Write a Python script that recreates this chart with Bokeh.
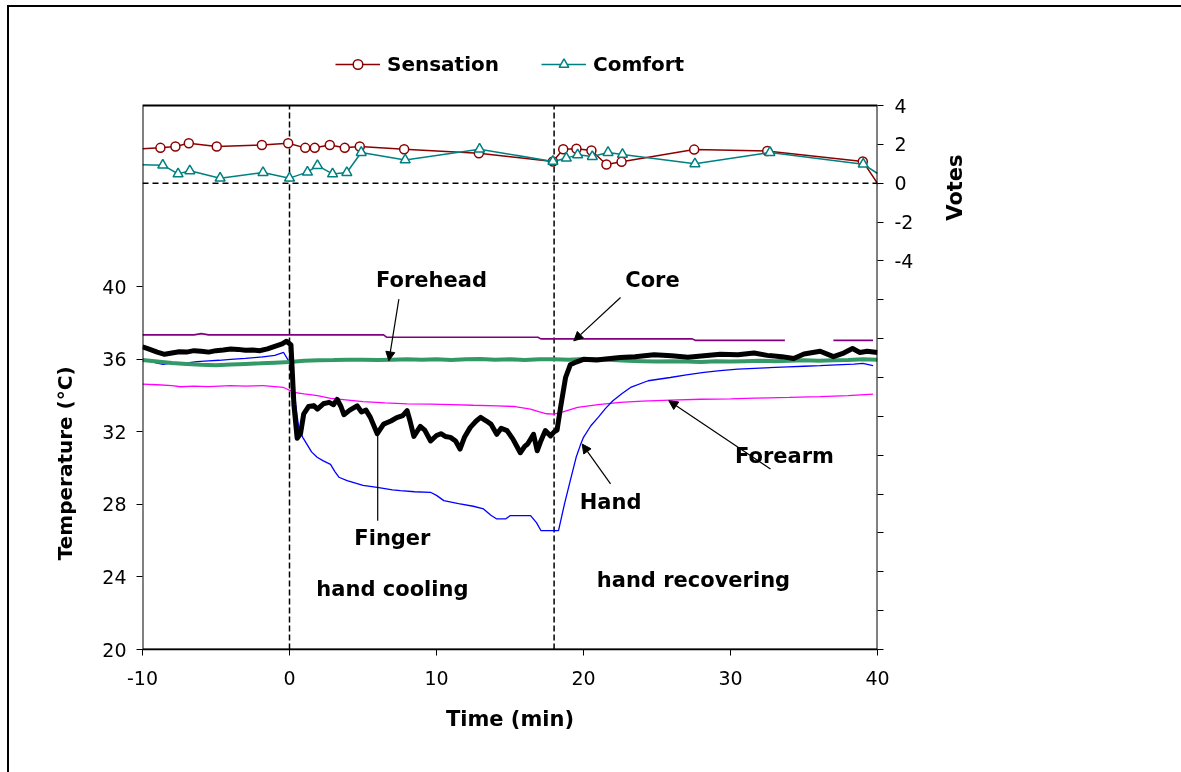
import math
from bokeh.plotting import figure
from bokeh.models import (Range1d, LinearAxis, FixedTicker, Span, Label, Arrow, BoxAnnotation,
                          NormalHead, Legend, LegendItem, CustomJSTickFormatter)
from bokeh.embed import file_html
from bokeh.resources import INLINE

# ---------------- data ----------------
sens_t = [-10.0, -8.78, -7.76, -6.85, -4.95, -1.88, -0.09, 1.07, 1.72, 2.74, 3.76, 4.78,
          7.80, 12.88, 17.92, 18.62, 19.52, 20.54, 21.56, 22.59, 27.53, 32.5, 39.0, 40.1]
sens_v = [1.77, 1.82, 1.89, 2.06, 1.89, 1.97, 2.06, 1.82, 1.82, 1.97, 1.82, 1.89,
          1.75, 1.54, 1.12, 1.75, 1.77, 1.68, 0.96, 1.10, 1.73, 1.66, 1.12, -0.12]

comf_t = [-10.0, -8.62, -7.58, -6.78, -4.72, -1.80, 0.0, 1.22, 1.90, 2.93, 3.90, 4.88,
          7.87, 12.93, 17.92, 18.83, 19.6, 20.6, 21.67, 22.65, 27.58, 32.68, 39.03, 40.0]
comf_v = [0.95, 0.93, 0.48, 0.64, 0.26, 0.55, 0.26, 0.57, 0.91, 0.48, 0.55, 1.58,
          1.20, 1.75, 1.12, 1.29, 1.46, 1.37, 1.58, 1.48, 1.00, 1.58, 0.98, 0.50]

core_t = [-10.0, -6.5, -6.0, -5.5, 6.4, 6.6, 16.9, 17.1, 27.4, 27.6, 33.7, 35.0, 37.0, 39.7]
core_T = [37.35, 37.35, 37.42, 37.35, 37.35, 37.22, 37.22, 37.13, 37.13, 37.05, 37.05,
          float("nan"), 37.05, 37.05]

forehead_t = list(range(-10, 41))
forehead_T = [35.96, 35.88, 35.80, 35.75, 35.70, 35.68, 35.72, 35.75, 35.78, 35.82, 35.85,
              35.92, 35.95, 35.96, 35.98, 35.98, 35.96, 35.98, 36.00, 35.98, 36.00,
              35.97, 36.00, 36.02, 35.98, 36.00, 35.97, 36.00, 36.00, 35.98, 36.02,
              36.00, 35.97, 35.92, 35.90, 35.88, 35.90, 35.88, 35.85, 35.90, 35.88,
              35.90, 35.92, 35.90, 35.92, 35.95, 35.93, 35.95, 35.97, 36.00, 35.98]

forearm_t = [-10, -9, -8, -7.4, -6.5, -5.5, -4, -3, -1.8, -0.4, 0.3, 1.0, 1.9, 2.8, 4.0,
             5.0, 6.5, 8.0, 9.6, 11.0, 12.5, 14.1, 15.3, 16.4, 17.0, 17.5, 18.0, 18.6,
             19.6, 21.0, 22.5, 24.0, 25.9, 28.0, 30.0, 31.6, 34.0, 36.1, 38.0, 39.7]
forearm_T = [34.63, 34.60, 34.55, 34.49, 34.52, 34.50, 34.55, 34.52, 34.55, 34.45, 34.18,
             34.10, 34.00, 33.85, 33.75, 33.67, 33.60, 33.55, 33.53, 33.50, 33.47, 33.44,
             33.40, 33.26, 33.10, 33.00, 32.98, 33.10, 33.35, 33.50, 33.63, 33.70, 33.75,
             33.80, 33.82, 33.86, 33.90, 33.94, 34.00, 34.08]

hand_t = [-10, -9.3, -8.6, -8, -7.2, -6.3, -5.5, -4.8, -4, -3, -1.8, -1, -0.4, 0.07, 0.3,
          0.5, 0.63, 0.9, 1.2, 1.5, 1.88, 2.3, 2.79, 3.1, 3.36, 3.92, 5.0, 5.97, 7.0, 7.55,
          8.5, 9.59, 10.0, 10.5, 11.5, 12.5, 13.2, 13.7, 14.1, 14.7, 15.0, 16.0, 16.4,
          16.8, 17.1, 18.0, 18.3, 18.7, 19.1, 19.5, 19.8, 20.0, 20.5, 21.0, 21.5, 22.0,
          22.6, 23.2, 24.4, 25.9, 27.0, 28.2, 29.3, 30.5, 32.0, 33.9, 35.0, 36.1, 37.2,
          38.4, 39.0, 39.7]
hand_T = [36.00, 35.85, 35.72, 35.80, 35.78, 35.88, 35.92, 35.95, 36.00, 36.05, 36.14,
          36.22, 36.38, 35.74, 34.40, 33.00, 32.25, 31.70, 31.30, 30.90, 30.60, 30.40,
          30.21, 29.80, 29.50, 29.31, 29.05, 28.94, 28.80, 28.76, 28.70, 28.67, 28.50,
          28.21, 28.05, 27.90, 27.75, 27.40, 27.20, 27.20, 27.38, 27.38, 27.38, 27.00,
          26.56, 26.56, 26.56, 28.00, 29.31, 30.60, 31.30, 31.70, 32.34, 32.80, 33.30,
          33.72, 34.10, 34.45, 34.82, 35.00, 35.15, 35.28, 35.38, 35.46, 35.52, 35.59,
          35.62, 35.65, 35.70, 35.74, 35.78, 35.65]

finger_t = [-10, -9.5, -9, -8.5, -8, -7.5, -7, -6.5, -6, -5.5, -5, -4.5, -4, -3.5, -3,
            -2.5, -2, -1.5, -1, -0.5, -0.2, 0.1, 0.3, 0.52, 0.75, 0.97, 1.3, 1.65, 1.9,
            2.3, 2.7, 3.0, 3.24, 3.5, 3.7, 4.1, 4.6, 4.9, 5.2, 5.5, 5.97, 6.4, 6.9, 7.3,
            7.7, 8.0, 8.2, 8.46, 8.9, 9.2, 9.6, 10.0, 10.3, 10.6, 10.95, 11.3, 11.6, 11.9,
            12.3, 12.7, 13.0, 13.4, 13.7, 14.1, 14.4, 14.8, 15.2, 15.5, 15.7, 16.0, 16.2,
            16.6, 16.85, 17.1, 17.4, 17.76, 18.0, 18.2, 18.44, 18.78, 19.1, 19.5, 20.0,
            20.9, 21.5, 22.5, 23.5, 24.8, 26.0, 27.1, 28.2, 29.3, 30.5, 31.6, 32.5, 33.5,
            34.3, 35.0, 36.1, 37.0, 37.7, 38.3, 38.8, 39.3, 40.0]
finger_T = [36.69, 36.55, 36.40, 36.28, 36.35, 36.42, 36.40, 36.48, 36.45, 36.40, 36.48,
            36.52, 36.57, 36.55, 36.50, 36.52, 36.48, 36.58, 36.72, 36.85, 37.00, 36.80,
            33.50, 31.65, 31.90, 33.00, 33.40, 33.45, 33.26, 33.55, 33.63, 33.50, 33.80,
            33.40, 32.95, 33.20, 33.44, 33.10, 33.20, 32.80, 31.90, 32.43, 32.60, 32.79,
            32.90, 33.17, 32.60, 31.75, 32.30, 32.10, 31.50, 31.80, 31.90, 31.75, 31.70,
            31.50, 31.05, 31.70, 32.25, 32.60, 32.80, 32.60, 32.43, 31.87, 32.20, 32.07,
            31.60, 31.15, 30.85, 31.20, 31.33, 31.87, 30.96, 31.50, 32.07, 31.78, 32.00,
            32.10, 33.35, 35.00, 35.70, 35.85, 36.00, 35.96, 36.02, 36.10, 36.15, 36.25,
            36.20, 36.12, 36.20, 36.28, 36.25, 36.35, 36.22, 36.15, 36.05, 36.30, 36.45,
            36.15, 36.35, 36.60, 36.38, 36.45, 36.38]

phase_times = [0, 18]
temp_ticks = [20, 24, 28, 32, 36, 40]
time_ticks = [-10, 0, 10, 20, 30, 40]
vote_ticks = list(range(-24, 5, 2))

# ---------------- layout geometry ----------------
FONT = "DejaVu Sans"
SENS_C = "#8B0000"
COMF_C = "#008080"

T_MIN, T_MAX = 20, 50          # temperature span of the plot box
V_MIN, V_MAX = -24, 4          # vote span of the plot box
BOX_PX = 544                   # height of the plot box in px
EXTRA_PX = 65                  # room above the box (inside frame) for the legend
T_TOP = T_MAX + EXTRA_PX * (T_MAX - T_MIN) / BOX_PX
V_TOP = V_MAX + EXTRA_PX * (V_MAX - V_MIN) / BOX_PX

W, H = 1200, 790
p = figure(width=W, height=H, output_backend="svg", toolbar_location=None,
           x_range=Range1d(-10, 40), y_range=Range1d(T_MIN, T_TOP),
           min_border_left=133, min_border_right=332, min_border_top=33,
           min_border_bottom=148)
p.styles = {"position": "fixed", "left": "9px", "top": "7px",
            "box-shadow": "-2px -2px 0px 0px black"}
p.extra_y_ranges = {"votes": Range1d(V_MIN, V_TOP)}
p.grid.visible = False
p.outline_line_color = None
p.background_fill_color = "white"
p.border_fill_color = "white"

# plot box
p.add_layout(BoxAnnotation(left=-10, right=40, bottom=T_MIN, top=T_MAX,
                           fill_color=None, fill_alpha=0, line_color="black",
                           line_alpha=1.0, line_width=2))


def style_axis(ax):
    ax.major_tick_in = 0
    ax.major_tick_out = 6
    ax.minor_tick_in = 0
    ax.minor_tick_out = 0
    ax.axis_line_color = "black"
    ax.major_tick_line_color = "black"
    ax.major_label_text_font = FONT
    ax.major_label_text_font_size = "19px"
    ax.major_label_text_color = "black"
    ax.axis_label_text_font = FONT
    ax.axis_label_text_font_style = "bold"
    ax.axis_label_text_color = "black"


NB = "\u00a0"

xa = p.xaxis[0]
style_axis(xa)
xa.ticker = FixedTicker(ticks=time_ticks)
xa.formatter = CustomJSTickFormatter(code="return String(tick);")
xa.axis_label = "Time (min)"
xa.axis_label_text_font_size = "21px"
xa.axis_label_standoff = 19
xa.major_label_standoff = 15
xa.axis_line_width = 1.5

ya = p.yaxis[0]
style_axis(ya)
ya.axis_line_color = None
ya.ticker = FixedTicker(ticks=temp_ticks)
ya.formatter = CustomJSTickFormatter(code="return String(tick);")
ya.axis_label = "Temperature (°C)" + NB * 34
ya.axis_label_text_font_size = "20px"
ya.axis_label_standoff = 22
ya.major_label_standoff = 10

ra = LinearAxis(y_range_name="votes")
style_axis(ra)
ra.axis_line_color = None
ra.ticker = FixedTicker(ticks=vote_ticks)
ra.formatter = CustomJSTickFormatter(code="return tick >= -4 ? String(tick) : '';")
ra.major_label_standoff = 11
ra.axis_label = NB * 17 + "Votes"
ra.axis_label_text_font_size = "21px"
ra.axis_label_standoff = 39
if "axis_label_orientation" in ra.properties():
    ra.axis_label_orientation = math.pi / 2
p.add_layout(ra, "right")

# phase dividers and zero-vote line
p.segment(x0=phase_times, y0=[T_MIN] * len(phase_times), x1=phase_times,
          y1=[T_MAX] * len(phase_times), line_color="black", line_width=1.5,
          line_dash="6 3")
p.add_layout(Span(location=0, dimension="width", y_range_name="votes",
                  line_color="black", line_width=1.5, line_dash="6 4"))

# temperature traces
p.line(core_t, core_T, line_color="#800080", line_width=1.6)
p.line(forearm_t, forearm_T, line_color="#FF00FF", line_width=1.3)
p.line(hand_t, hand_T, line_color="#0000FF", line_width=1.3)
p.line(forehead_t, forehead_T, line_color="#339966", line_width=4)
p.line(finger_t, finger_T, line_color="black", line_width=5, line_join="round")

# votes
sl = p.line(sens_t, sens_v, y_range_name="votes", line_color=SENS_C, line_width=1.5)
ss = p.scatter(sens_t[1:-1], sens_v[1:-1], y_range_name="votes", marker="circle",
               size=9, line_color=SENS_C, fill_color="white", line_width=1.5)
cl = p.line(comf_t, comf_v, y_range_name="votes", line_color=COMF_C, line_width=1.5)
cs = p.scatter(comf_t[1:-1], comf_v[1:-1], y_range_name="votes", marker="triangle",
               size=10, line_color=COMF_C, fill_color="white", line_width=1.5)

legend = Legend(items=[LegendItem(label="Sensation", renderers=[sl, ss]),
                       LegendItem(label="Comfort", renderers=[cl, cs])],
                orientation="horizontal", location=(193, 573),
                glyph_width=45, glyph_height=24, label_height=24, label_standoff=7,
                spacing=42, padding=0, margin=0, border_line_color=None,
                background_fill_alpha=0,
                label_text_font=FONT, label_text_font_style="bold",
                label_text_font_size="20px", label_text_color="black")
p.add_layout(legend)

# annotations
notes = [("Forehead", 9.66, 40.39), ("Core", 24.69, 40.39), ("Finger", 7.0, 26.17),
         ("Hand", 21.84, 28.15), ("Forearm", 33.67, 30.69),
         ("hand cooling", 7.0, 23.36), ("hand recovering", 27.48, 23.86)]
for txt, xx, yy in notes:
    p.add_layout(Label(x=xx, y=yy, text=txt, text_align="center", text_baseline="middle",
                       text_font=FONT, text_font_style="bold", text_font_size="21px",
                       text_color="black"))

arrows = [(7.44, 39.32, 6.76, 35.92, True), (22.52, 39.41, 19.34, 37.02, True),
          (6.0, 27.1, 6.0, 31.88, False), (21.84, 29.13, 19.91, 31.33, True),
          (32.72, 29.96, 25.8, 33.72, True)]
for x0, y0, x1, y1, head in arrows:
    p.add_layout(Arrow(end=NormalHead(size=9, fill_color="black", line_color="black")
                       if head else None,
                       x_start=x0, y_start=y0, x_end=x1, y_end=y1,
                       line_color="black", line_width=1.2))

open("out.html", "w").write(file_html(p, INLINE))
